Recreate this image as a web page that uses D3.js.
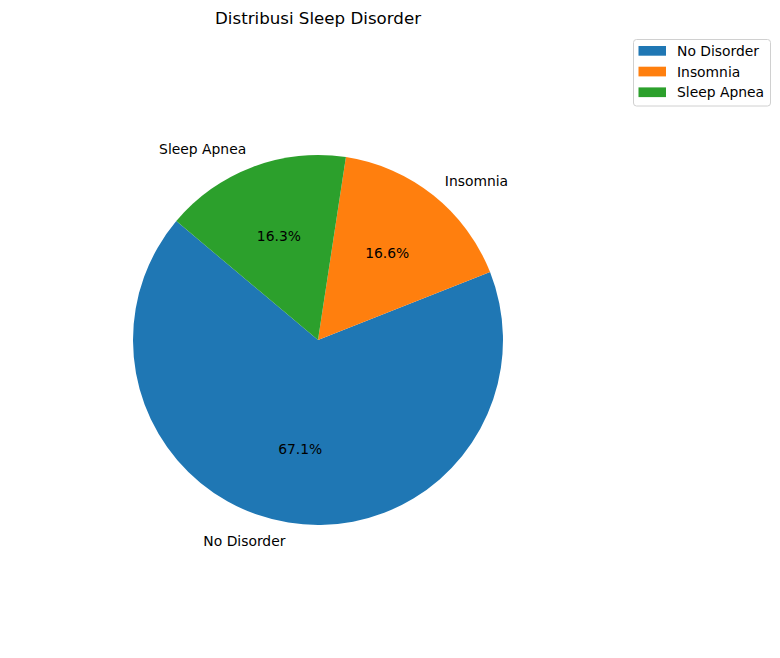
<!DOCTYPE html>
<html>
<head>
<meta charset="utf-8">
<script src="https://cdn.jsdelivr.net/npm/d3@7"></script>
<style>
body{margin:0;background:#fff;}
svg{display:block;font-family:"DejaVu Sans",sans-serif;}
</style>
</head>
<body>
<svg id="chart" width="780" height="658"></svg>
<script>
const categories = ["No Disorder", "Insomnia", "Sleep Apnea"];
const values = [67.1, 16.6, 16.3];
const colors = ["#1f77b4", "#ff7f0e", "#2ca02c"];
const title = "Distribusi Sleep Disorder";

const svg = d3.select("#chart");
const cx = 318, cy = 340, r = 185;
const startDeg = 140; // matplotlib startangle (ccw from east)
const toRad = d => d * Math.PI / 180;
const d3Start = toRad(90 - startDeg);
const fs = "13.89px";

const data = categories.map((c, i) => ({cat: c, v: values[i], color: colors[i]}));
const pie = d3.pie().value(d => d.v).sort(null)
  .startAngle(d3Start).endAngle(d3Start - 2 * Math.PI);
const arcs = pie(data);
const arc = d3.arc().innerRadius(0).outerRadius(r);

const g = svg.append("g").attr("transform", `translate(${cx},${cy})`);
g.selectAll("path.slice").data(arcs).enter().append("path")
  .attr("class", "slice")
  .attr("d", arc)
  .attr("fill", d => d.data.color);

function pos(d, f) {
  const a = (d.startAngle + d.endAngle) / 2;
  return [f * r * Math.sin(a), -f * r * Math.cos(a)];
}

g.selectAll("text.lbl").data(arcs).enter().append("text")
  .attr("class", "lbl")
  .attr("x", d => pos(d, 1.1)[0])
  .attr("y", d => pos(d, 1.1)[1])
  .attr("dy", "0.35em")
  .attr("text-anchor", d => pos(d, 1.1)[0] > 0 ? "start" : "end")
  .attr("font-size", fs)
  .attr("fill", "#000")
  .text(d => d.data.cat);

g.selectAll("text.pct").data(arcs).enter().append("text")
  .attr("class", "pct")
  .attr("x", d => pos(d, 0.6)[0])
  .attr("y", d => pos(d, 0.6)[1])
  .attr("dy", "0.35em")
  .attr("text-anchor", "middle")
  .attr("font-size", fs)
  .attr("fill", "#000")
  .text(d => d3.format(".1f")(d.data.v) + "%");

svg.append("text")
  .attr("x", cx).attr("y", 24)
  .attr("text-anchor", "middle")
  .attr("font-size", "16.67px")
  .text(title);

// legend
const lg = svg.append("g");
lg.append("rect")
  .attr("x", 633.5).attr("y", 39.5).attr("width", 137).attr("height", 66.5)
  .attr("rx", 3).attr("fill", "#fff").attr("fill-opacity", 0.8)
  .attr("stroke", "#d0d0d0").attr("stroke-width", 1);
const items = lg.selectAll("g.item").data(data).enter().append("g")
  .attr("transform", (d, i) => `translate(0,${51 + i * 20.7})`);
items.append("rect")
  .attr("x", 638.5).attr("y", -5).attr("width", 27.5).attr("height", 9.7)
  .attr("fill", d => d.color);
items.append("text")
  .attr("x", 677).attr("y", 0).attr("dy", "0.35em")
  .attr("font-size", fs)
  .text(d => d.cat);
</script>
</body>
</html>
